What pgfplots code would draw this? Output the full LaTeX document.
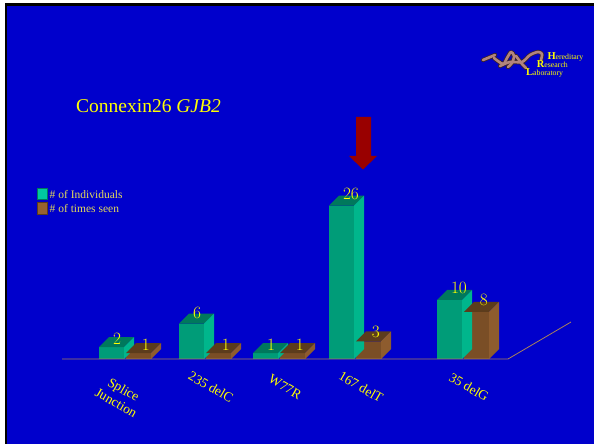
\documentclass[border=0pt]{standalone}
\usepackage{fontspec}
\setmainfont{Liberation Serif}
\usepackage{pgfplots}
\pgfplotsset{compat=1.18}
\usepackage{pgfplotstable}

\definecolor{bg}{RGB}{0,0,204}
\definecolor{gfront}{RGB}{0,156,120}
\definecolor{gside}{RGB}{0,182,140}
\definecolor{gtop}{RGB}{0,120,92}
\definecolor{bfront}{RGB}{122,78,38}
\definecolor{bside}{RGB}{142,92,46}
\definecolor{btop}{RGB}{92,60,28}
\definecolor{ylw}{RGB}{255,255,0}
\definecolor{legtxt}{RGB}{228,218,90}
\definecolor{floorc}{RGB}{170,130,90}
\definecolor{arrowred}{RGB}{153,0,0}
\definecolor{leggreen}{RGB}{0,200,160}
\definecolor{legbrown}{RGB}{150,98,48}
\definecolor{dnadark}{RGB}{60,35,40}
\definecolor{dnalight}{RGB}{178,132,126}

\pgfplotstableread{
x v
125 2
205 6
279 1
355 26
463 10
}\indiv
\pgfplotstableread{
x v
125 1
205 1
279 1
355 3
463 8
}\seen

% 3D top + side faces, drawn at the top of each bar
\pgfdeclareplotmark{prismG}{%
  \pgfmathsetlengthmacro{\H}{\rawv*5.9pt}%
  \pgfpathmoveto{\pgfpoint{-26pt}{0pt}}%
  \pgfpathlineto{\pgfpoint{-1pt}{0pt}}%
  \pgfpathlineto{\pgfpoint{9pt}{10pt}}%
  \pgfpathlineto{\pgfpoint{-16pt}{10pt}}%
  \pgfpathclose
  \pgfsetfillcolor{gtop}\pgfusepath{fill}%
  \pgfpathmoveto{\pgfpoint{-1pt}{0pt}}%
  \pgfpathlineto{\pgfpoint{9pt}{10pt}}%
  \pgfpathlineto{\pgfpoint{9pt}{10pt-\H}}%
  \pgfpathlineto{\pgfpoint{-1pt}{-\H}}%
  \pgfpathclose
  \pgfsetfillcolor{gside}\pgfusepath{fill}%
}
\pgfdeclareplotmark{prismB}{%
  \pgfmathsetlengthmacro{\H}{\rawv*5.9pt}%
  \pgfpathmoveto{\pgfpoint{1pt}{0pt}}%
  \pgfpathlineto{\pgfpoint{26pt}{0pt}}%
  \pgfpathlineto{\pgfpoint{36pt}{10pt}}%
  \pgfpathlineto{\pgfpoint{11pt}{10pt}}%
  \pgfpathclose
  \pgfsetfillcolor{btop}\pgfusepath{fill}%
  \pgfpathmoveto{\pgfpoint{26pt}{0pt}}%
  \pgfpathlineto{\pgfpoint{36pt}{10pt}}%
  \pgfpathlineto{\pgfpoint{36pt}{10pt-\H}}%
  \pgfpathlineto{\pgfpoint{26pt}{-\H}}%
  \pgfpathclose
  \pgfsetfillcolor{bside}\pgfusepath{fill}%
}

\begin{document}
\begin{tikzpicture}[x=1pt,y=1pt]
\useasboundingbox (0,0) rectangle (594,444);
\fill[white] (0,0) rectangle (594,444);
\fill[black] (5,0) rectangle (594,441);
\fill[bg] (7,0) rectangle (594,438);

\begin{axis}[
  at={(62pt,85pt)}, anchor=south west,
  x=1pt, y=5.9pt,
  xmin=62, xmax=508, ymin=0, ymax=28,
  clip=false,
  axis line style={draw=none},
  major tick length=0pt,
  ytick=\empty,
  xtick={205,279,355,463},
  xticklabels={235 delC, W77R, 167 delT, 35 delG},
  extra x ticks={114},
  extra x tick labels={{Splice\\Junction}},
  extra x tick style={xticklabel shift=37pt},
  xticklabel shift=28pt,
  xticklabel style={xshift=6pt, rotate=-30, anchor=center, align=center,
    text=ylw, font=\fontsize{13.5}{15}\selectfont},
]
% # of Individuals
\addplot[ybar, bar width=25pt, bar shift=-13.5pt, fill=gfront, draw=none]
  table[x=x,y=v]{\indiv};
\addplot[only marks, mark=prismG,
  visualization depends on={\thisrow{v} \as \rawv},
  visualization depends on={min(1.5+0.6*\thisrow{v},6.5) \as \lab},
  nodes near coords,
  every node near coord/.append style={anchor=base west, xshift=-15.5pt,
    yshift=\lab pt, text=ylw, font=\fontsize{18.5}{20}\selectfont}]
  table[x=x,y=v]{\indiv};
% # of times seen
\addplot[ybar, bar width=25pt, bar shift=13.5pt, fill=bfront, draw=none]
  table[x=x,y=v]{\seen};
\addplot[only marks, mark=prismB,
  visualization depends on={\thisrow{v} \as \rawv},
  visualization depends on={min(1.5+0.6*\thisrow{v},6.5) \as \lab},
  nodes near coords,
  every node near coord/.append style={anchor=base west, xshift=13.3pt,
    yshift=\lab pt, text=ylw, font=\fontsize{18.5}{20}\selectfont}]
  table[x=x,y=v]{\seen};
\end{axis}

% floor line
\draw[floorc, line width=0.8pt] (62,85) -- (508,85) -- (571,122);

% arrow
\fill[arrowred] (356,327) -- (371,327) -- (371,288) -- (377,288) -- (363,274.5)
  -- (349,288) -- (356,288) -- cycle;

% title
\node[anchor=base west, inner sep=0pt, text=ylw, font=\fontsize{19.5}{21}\selectfont]
  at (76,331.3) {Connexin26 \textit{GJB2}};

% legend
\fill[leggreen, draw=gtop, line width=0.4pt] (37,256) rectangle (47,244.7);
\fill[legbrown, draw=btop, line width=0.4pt] (37,241.3) rectangle (47,230);
\node[anchor=base west, inner sep=0pt, text=legtxt, font=\fontsize{11.5}{13}\selectfont]
  at (49.5,245.8) {\# of Individuals};
\node[anchor=base west, inner sep=0pt, text=legtxt, font=\fontsize{11.5}{13}\selectfont]
  at (49.5,231.3) {\# of times seen};

% logo (DNA ribbon)
\foreach \w/\c in {4.2pt/dnadark, 2.6pt/dnalight}{
  \draw[\c, line width=\w, line cap=round, line join=round]
    (483,384) -- (495,389);
  \draw[\c, line width=\w, line cap=round, line join=round] plot[smooth] coordinates
    {(494,386) (503,380) (507,386) (511,392) (514,388) (512,381) (508,377)};
  \draw[\c, line width=\w, line cap=round, line join=round] plot[smooth] coordinates
    {(500,378) (510,382) (522,382) (530,389) (538,392) (542,390) (541,384)};
  \draw[\c, line width=\w, line cap=round, line join=round] plot[smooth] coordinates
    {(516,388) (522,380) (526,376)};
}
\node[anchor=base west, inner sep=0pt, text=ylw] at (547.3,384.7)
  {{\fontsize{10.5}{11}\selectfont\bfseries H}{\fontsize{7.8}{9}\selectfont ereditary}};
\node[anchor=base west, inner sep=0pt, text=ylw] at (536.7,376.3)
  {{\fontsize{10.5}{11}\selectfont\bfseries R}{\fontsize{7.8}{9}\selectfont esearch}};
\node[anchor=base west, inner sep=0pt, text=ylw] at (526,368)
  {{\fontsize{10.5}{11}\selectfont\bfseries L}{\fontsize{7.8}{9}\selectfont aboratory}};
\end{tikzpicture}
\end{document}
